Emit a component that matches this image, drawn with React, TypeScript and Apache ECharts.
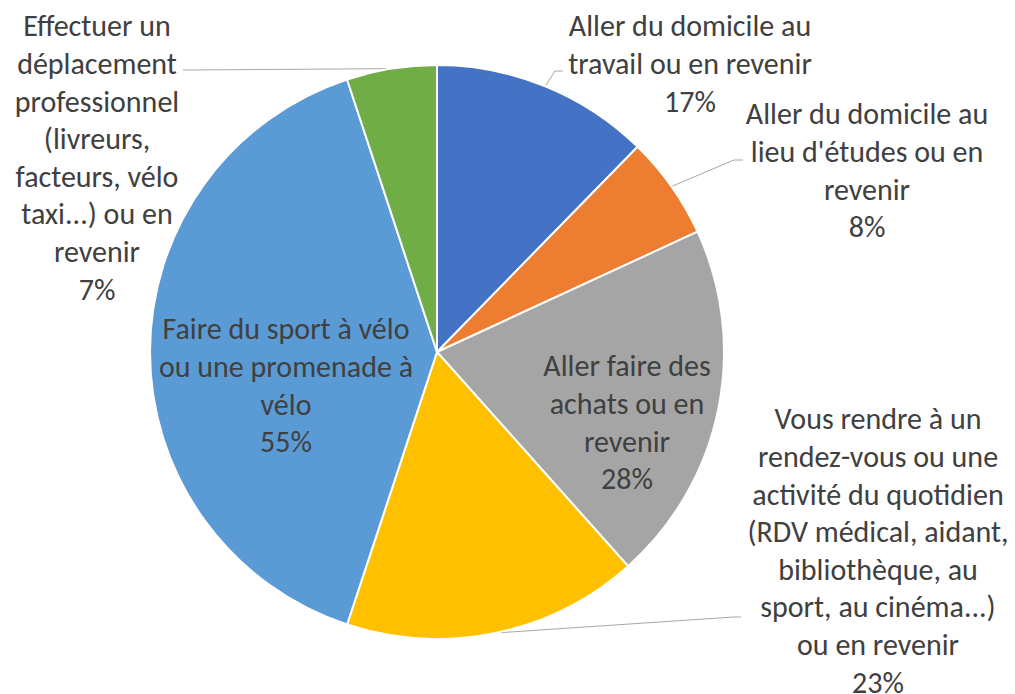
import React, { useEffect, useRef } from "react";
import * as echarts from "echarts";

const categories = [
  "Aller du domicile au\ntravail ou en revenir",
  "Aller du domicile au\nlieu d'études ou en\nrevenir",
  "Aller faire des\nachats ou en\nrevenir",
  "Vous rendre à un\nrendez-vous ou une\nactivité du quotidien\n(RDV médical, aidant,\nbibliothèque, au\nsport, au cinéma...)\nou en revenir",
  "Faire du sport à vélo\nou une promenade à\nvélo",
  "Effectuer un\ndéplacement\nprofessionnel\n(livreurs,\nfacteurs, vélo\ntaxi...) ou en\nrevenir",
];
const values = [17, 8, 28, 23, 55, 7];
const colors = ["#4472C4", "#ED7D31", "#A5A5A5", "#FFC000", "#5B9BD5", "#70AD47"];
const inside = [false, false, true, false, true, false];

// label anchor: center x, top y of the text block
const labelPos: [number, number][] = [
  [690, 7],
  [867, 95],
  [627, 347],
  [878, 400],
  [286, 310],
  [97, 7],
];
// leader line bend & end points
const leader: ([number, number][] | null)[] = [
  [[555, 71], [563, 71]],
  [[734, 160], [743, 160]],
  null,
  [[734, 617], [741, 617]],
  null,
  [[190, 70], [183, 70]],
];

export default function App() {
  const ref = useRef<HTMLDivElement>(null);
  useEffect(() => {
    const chart = echarts.init(ref.current!, null, { renderer: "svg" });
    chart.setOption({
      animation: false,
      backgroundColor: "#FFFFFF",
      series: [
        {
          type: "pie",
          center: [437, 352],
          radius: [0, 287],
          startAngle: 90,
          clockwise: true,
          avoidLabelOverlap: false,
          itemStyle: { borderColor: "#FFFFFF", borderWidth: 2 },
          label: {
            formatter: "{b}\n{c}%",
            color: "#404040",
            fontFamily: "Carlito, 'Open Sans', sans-serif",
            fontSize: 30,
            lineHeight: 37.6,
            align: "center",
          },
          labelLine: {
            show: true,
            length: 10,
            length2: 10,
            lineStyle: { color: "#A6A6A6", width: 1 },
          },
          labelLayout: (params: any) => {
            const i = params.dataIndex;
            const [x, y] = labelPos[i];
            const res: any = { x, y, align: "center", verticalAlign: "top" };
            const l = leader[i];
            if (l && params.labelLinePoints && params.labelLinePoints.length) {
              const s = params.labelLinePoints[0];
              res.labelLinePoints = [[s[0], s[1]], l[0], l[1]];
            }
            return res;
          },
          data: categories.map((name, i) => ({
            name,
            value: values[i],
            itemStyle: { color: colors[i] },
            label: { position: inside[i] ? "inside" : "outside" },
            labelLine: { show: !inside[i] },
          })),
        },
      ],
    });
    return () => chart.dispose();
  }, []);
  return (
    <div
      ref={ref}
      style={{ position: "absolute", left: 0, top: 0, width: 1015, height: 694 }}
    />
  );
}
